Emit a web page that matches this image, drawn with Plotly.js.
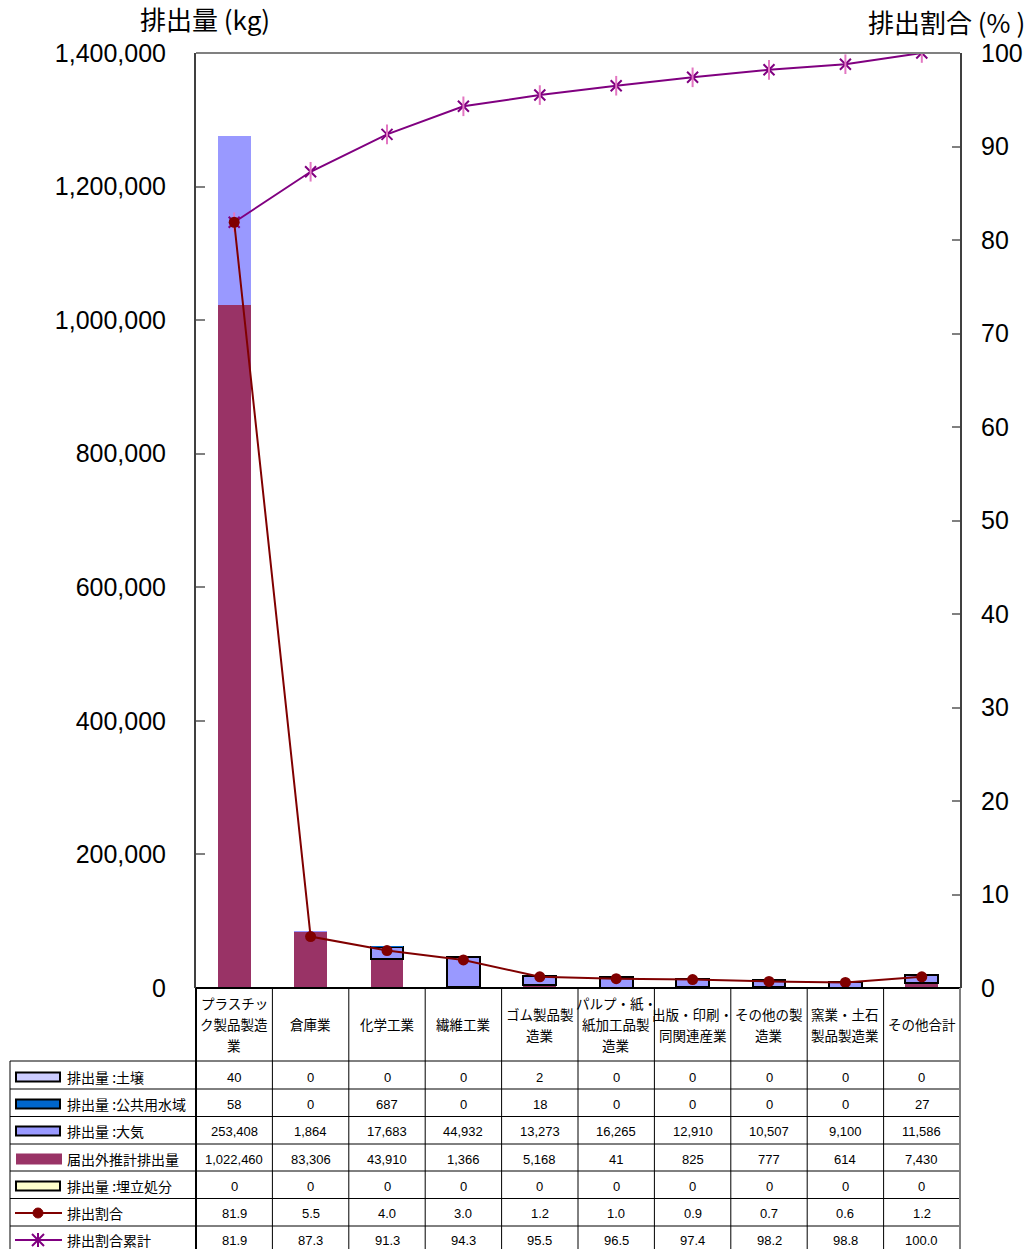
<!DOCTYPE html>
<html>
<head>
<meta charset="utf-8">
<script src="https://cdn.plot.ly/plotly-3.0.1.min.js"></script>
<style>
  html, body { margin: 0; padding: 0; background: #ffffff; }
  #chart { width: 1034px; height: 1249px; }
</style>
</head>
<body>
<div id="chart"></div>
<script>
// 業種別の排出量（kg）と排出割合（%）
const categories = [
  'プラスチッ\nク製品製造\n業',
  '倉庫業',
  '化学工業',
  '繊維工業',
  'ゴム製品製\n造業',
  'パルプ・紙・\n紙加工品製\n造業',
  '出版・印刷・\n同関連産業',
  'その他の製\n造業',
  '窯業・土石\n製品製造業',
  'その他合計'
];
const soil        = [40, 0, 0, 0, 2, 0, 0, 0, 0, 0];
const water       = [58, 0, 687, 0, 18, 0, 0, 0, 0, 27];
const air         = [253408, 1864, 17683, 44932, 13273, 16265, 12910, 10507, 9100, 11586];
const nonReported = [1022460, 83306, 43910, 1366, 5168, 41, 825, 777, 614, 7430];
const landfill    = [0, 0, 0, 0, 0, 0, 0, 0, 0, 0];
const share       = [81.9, 5.5, 4.0, 3.0, 1.2, 1.0, 0.9, 0.7, 0.6, 1.2];
const cumShare    = [81.9, 87.3, 91.3, 94.3, 95.5, 96.5, 97.4, 98.2, 98.8, 100.0];

const rowLabels = ['排出量 :土壌', '排出量 :公共用水域', '排出量 :大気', '届出外推計排出量', '排出量 :埋立処分', '排出割合', '排出割合累計'];

const FONT = '"Liberation Sans", Arial, "Noto Sans CJK JP", sans-serif';
const JFONT = '"Noto Sans CJK JP", "Liberation Sans", sans-serif';

const C_SOIL = '#CCCCFF', C_WATER = '#0066CC', C_AIR = '#9999FF', C_NR = '#993366', C_LAND = '#FFFFCC';
const C_SHARE = '#800000', C_CUM = '#800080';

// plot area in pixels
const W = 1034, H = 1249;
const L = 196, R = 960, T = 53, B = 988;
const px = v => (v - L) / (R - L);
const py = v => (B - v) / (B - T);
const n = categories.length;
const colX = i => (i + 0.5) / n;

const idx = categories.map((_, i) => i);

const traces = [
  { type: 'bar', name: '排出量 :埋立処分', x: idx, y: landfill, marker: { color: C_LAND, line: { color: '#000', width: 0 } } },
  { type: 'bar', name: '届出外推計排出量', x: idx, y: nonReported, marker: { color: C_NR, line: { width: 0 } } },
  { type: 'bar', name: '排出量 :大気', x: idx, y: air,
    marker: { color: C_AIR, line: { color: '#000', width: air.map((v, i) => (i < 2 ? 0 : 2)) } } },
  { type: 'bar', name: '排出量 :公共用水域', x: idx, y: water, marker: { color: C_WATER, line: { width: 0 } } },
  { type: 'bar', name: '排出量 :土壌', x: idx, y: soil, marker: { color: C_SOIL, line: { width: 0 } } },
  { type: 'scatter', mode: 'lines+markers', name: '排出割合累計', x: idx, y: cumShare, yaxis: 'y2',
    line: { color: C_CUM, width: 2 },
    marker: { symbol: 'x-thin-open', size: 11, line: { color: C_CUM, width: 2 } } },
  { type: 'scatter', mode: 'markers', name: '排出割合累計', x: idx, y: cumShare, yaxis: 'y2', showlegend: false,
    marker: { symbol: 'line-ns-open', size: 14, line: { color: C_CUM, width: 2 } } },
  { type: 'scatter', mode: 'lines+markers', name: '排出割合', x: idx, y: share, yaxis: 'y2',
    line: { color: C_SHARE, width: 2 },
    marker: { symbol: 'circle', size: 11, color: C_SHARE } }
];

const shapes = [];
const annotations = [];

// frame top
shapes.push({ type: 'line', xref: 'paper', yref: 'paper', x0: 0, x1: 1, y0: 1, y1: 1, line: { color: '#808080', width: 2 } });

// table grid
const rowLines = [1061, 1089, 1116.5, 1144, 1171, 1198.5, 1226];
const rowCenters = [1077, 1104, 1131, 1159, 1186, 1213, 1240];
const tableBottom = 1260;
shapes.push({ type: 'line', xref: 'paper', yref: 'paper', x0: px(L), x1: px(R), y0: py(B), y1: py(B), line: { color: '#000', width: 2 } });
rowLines.forEach(y => {
  shapes.push({ type: 'line', xref: 'paper', yref: 'paper', x0: px(10), x1: px(R), y0: py(y), y1: py(y), line: { color: '#000', width: 1 } });
});
shapes.push({ type: 'line', xref: 'paper', yref: 'paper', x0: px(10), x1: px(10), y0: py(rowLines[0]), y1: py(tableBottom), line: { color: '#000', width: 1 } });
for (let i = 0; i <= n; i++) {
  const x = i / n;
  shapes.push({ type: 'line', xref: 'paper', yref: 'paper', x0: x, x1: x, y0: py(B), y1: py(tableBottom),
    line: { color: (i === n ? '#808080' : '#000'), width: (i === 0 || i === n) ? 2 : 1 } });
}

// category labels
categories.forEach((c, i) => {
  const lines = c.split('\n');
  const step = 21;
  const y0 = 1024 - (lines.length - 1) * step / 2;
  lines.forEach((t, k) => {
    annotations.push({ xref: 'paper', yref: 'paper', x: colX(i), y: py(y0 + k * step), text: t, showarrow: false,
      xanchor: 'center', yanchor: 'middle', font: { family: JFONT, size: 13.5, color: '#000' } });
  });
});

// table values
const fmtInt = v => v.toLocaleString('en-US');
const fmtPct = v => v.toFixed(1);
const rows = [
  soil.map(fmtInt), water.map(fmtInt), air.map(fmtInt), nonReported.map(fmtInt),
  landfill.map(fmtInt), share.map(fmtPct), cumShare.map(fmtPct)
];
rows.forEach((vals, r) => {
  vals.forEach((t, i) => {
    annotations.push({ xref: 'paper', yref: 'paper', x: colX(i), y: py(rowCenters[r]), text: t, showarrow: false,
      xanchor: 'center', yanchor: 'middle', font: { family: FONT, size: 13, color: '#000' } });
  });
  annotations.push({ xref: 'paper', yref: 'paper', x: px(65), y: py(rowCenters[r]), text: rowLabels[r], showarrow: false,
    xanchor: 'left', yanchor: 'middle', font: { family: JFONT, size: 14, color: '#000' } });
});

// legend keys in the table
const keyFills = [C_SOIL, C_WATER, C_AIR, C_NR, C_LAND];
keyFills.forEach((c, r) => {
  const yc = rowCenters[r];
  const bordered = r !== 3;
  shapes.push({ type: 'rect', xref: 'paper', yref: 'paper',
    x0: px(16), x1: px(bordered ? 60 : 62), y0: py(yc - (bordered ? 4.5 : 5.5)), y1: py(yc + (bordered ? 4.5 : 5.5)),
    fillcolor: c, line: { color: '#000', width: bordered ? 2 : 0 } });
});
{
  const yc = rowCenters[5];
  shapes.push({ type: 'line', xref: 'paper', yref: 'paper', x0: px(15), x1: px(62), y0: py(yc), y1: py(yc), line: { color: C_SHARE, width: 2 } });
  shapes.push({ type: 'circle', xref: 'paper', yref: 'paper', x0: px(33), x1: px(43), y0: py(yc - 5), y1: py(yc + 5),
    fillcolor: C_SHARE, line: { color: C_SHARE, width: 1 } });
}
{
  const yc = rowCenters[6], xc = 38, r = 6;
  shapes.push({ type: 'line', xref: 'paper', yref: 'paper', x0: px(15), x1: px(62), y0: py(yc), y1: py(yc), line: { color: C_CUM, width: 2 } });
  const P = (x, y) => px(x) + ',' + py(y);
  shapes.push({ type: 'path', xref: 'paper', yref: 'paper',
    path: 'M' + P(xc - r, yc - r) + 'L' + P(xc + r, yc + r) + 'M' + P(xc - r, yc + r) + 'L' + P(xc + r, yc - r) +
          'M' + P(xc, yc - r - 1) + 'L' + P(xc, yc + r + 1),
    line: { color: C_CUM, width: 2 } });
}

// axis titles
annotations.push({ xref: 'paper', yref: 'paper', x: px(205), y: py(18), text: '排出量 (kg)', showarrow: false,
  xanchor: 'center', yanchor: 'middle', font: { family: JFONT, size: 26, color: '#000' } });
annotations.push({ xref: 'paper', yref: 'paper', x: px(946), y: py(21), text: '排出割合 (% )', showarrow: false,
  xanchor: 'center', yanchor: 'middle', font: { family: JFONT, size: 26, color: '#000' } });

const layout = {
  width: W, height: H,
  margin: { l: L, r: W - R, t: T, b: H - B, pad: 0 },
  paper_bgcolor: '#ffffff', plot_bgcolor: '#ffffff',
  barmode: 'stack', bargap: 0.57,
  showlegend: false,
  font: { family: FONT, color: '#000' },
  xaxis: {
    type: 'linear', range: [-0.5, n - 0.5], showticklabels: false, ticks: '', showgrid: false,
    zeroline: false, showline: false, fixedrange: true
  },
  yaxis: {
    range: [0, 1400000], tickvals: [0, 200000, 400000, 600000, 800000, 1000000, 1200000, 1400000],
    tickformat: ',d', ticks: 'inside', ticklen: 9, tickwidth: 2, tickcolor: '#808080',
    showline: true, linecolor: '#404040', linewidth: 2, showgrid: false, zeroline: false,
    tickfont: { family: FONT, size: 25, color: '#000' }, ticklabelstandoff: 23
  },
  yaxis2: {
    overlaying: 'y', side: 'right', range: [0, 100], dtick: 10, tick0: 0,
    ticks: 'inside', ticklen: 8, tickwidth: 2, tickcolor: '#808080',
    showline: true, linecolor: '#404040', linewidth: 2, showgrid: false, zeroline: false,
    tickfont: { family: FONT, size: 25, color: '#000' }, ticklabelstandoff: 14
  },
  shapes: shapes,
  annotations: annotations
};

Plotly.newPlot('chart', traces, layout, { staticPlot: true, displayModeBar: false });
</script>
</body>
</html>
